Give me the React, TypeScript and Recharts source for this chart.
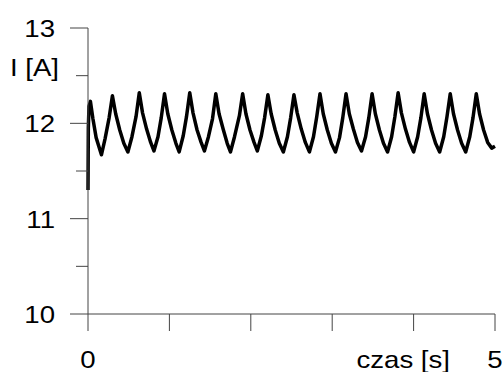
import React from "react";
import { LineChart, Line, XAxis, YAxis } from "recharts";

// time [s]
const times = [
  0, 0.004, 0.012, 0.03, 0.06, 0.10, 0.165, 0.21, 0.26,
  0.30, 0.34, 0.39, 0.44, 0.49, 0.54, 0.59,
  0.63, 0.67, 0.72, 0.77, 0.81, 0.86, 0.90,
  0.94, 0.98, 1.03, 1.08, 1.12, 1.17, 1.21,
  1.25, 1.29, 1.34, 1.39, 1.43, 1.48, 1.53,
  1.57, 1.61, 1.66, 1.71, 1.75, 1.80, 1.86,
  1.90, 1.94, 1.99, 2.04, 2.08, 2.13, 2.17,
  2.21, 2.25, 2.30, 2.35, 2.40, 2.45, 2.49,
  2.53, 2.57, 2.62, 2.67, 2.72, 2.77, 2.81,
  2.85, 2.89, 2.94, 2.99, 3.04, 3.09, 3.13,
  3.17, 3.21, 3.26, 3.31, 3.36, 3.41, 3.45,
  3.49, 3.53, 3.58, 3.63, 3.68, 3.73, 3.77,
  3.81, 3.85, 3.90, 3.95, 4.00, 4.05, 4.09,
  4.13, 4.17, 4.22, 4.27, 4.32, 4.37, 4.41,
  4.45, 4.49, 4.54, 4.59, 4.64, 4.69, 4.73,
  4.77, 4.81, 4.86, 4.91, 4.96, 5.00,
];

// current I [A]
const currents = [
  11.30, 11.95, 12.18, 12.23, 12.05, 11.85, 11.67, 11.84, 12.06,
  12.29, 12.10, 11.93, 11.79, 11.70, 11.86, 12.07,
  12.32, 12.11, 11.94, 11.80, 11.71, 11.86, 12.06,
  12.31, 12.10, 11.93, 11.79, 11.70, 11.87, 12.07,
  12.32, 12.11, 11.93, 11.80, 11.71, 11.86, 12.05,
  12.31, 12.10, 11.94, 11.79, 11.70, 11.86, 12.08,
  12.31, 12.10, 11.93, 11.80, 11.71, 11.87, 12.06,
  12.30, 12.10, 11.93, 11.79, 11.70, 11.86, 12.06,
  12.30, 12.11, 11.94, 11.80, 11.70, 11.86, 12.07,
  12.31, 12.10, 11.93, 11.79, 11.70, 11.85, 12.06,
  12.31, 12.10, 11.94, 11.80, 11.71, 11.86, 12.06,
  12.31, 12.10, 11.93, 11.79, 11.70, 11.86, 12.07,
  12.32, 12.11, 11.94, 11.80, 11.70, 11.86, 12.06,
  12.31, 12.10, 11.93, 11.79, 11.70, 11.86, 12.07,
  12.31, 12.10, 11.93, 11.79, 11.70, 11.86, 12.06,
  12.31, 12.10, 11.93, 11.80, 11.74, 11.76,
];

const yTicks = [10, 10.5, 11, 11.5, 12, 12.5, 13];
const yLabels: Record<string, string> = { "10": "10", "11": "11", "12": "12", "13": "13" };
const yTitle = "I [A]";
const xTicks = [0, 1, 2, 3, 4, 5];
const xLabels: Record<string, string> = { "0": "0", "5": "5" };
const xTitle = "czas [s]";

const data = times.map((t, k) => ({ t, i: currents[k] }));

const AXIS = "#444";
const FONT = "'Liberation Sans', Arial, Helvetica, sans-serif";

const Txt = ({ x, y, anchor, children }: any) => (
  <text
    transform={`translate(${x} ${y}) scale(1.15 1)`}
    textAnchor={anchor}
    fontFamily={FONT}
    fontSize={24}
    fill="#000"
  >
    {children}
  </text>
);

const YTick = (props: any) => {
  const { x, y, payload } = props;
  const v = payload.value;
  const major = Number.isInteger(v);
  const len = major ? 18 : 12;
  const lbl = yLabels[String(v)];
  return (
    <g>
      <line x1={x - len} y1={y} x2={x} y2={y} stroke={AXIS} strokeWidth={1} />
      {lbl ? <Txt x={x - 33} y={y + 9} anchor="end">{lbl}</Txt> : null}
      {v === 12.5 ? <Txt x={x - 29} y={y} anchor="end">{yTitle}</Txt> : null}
    </g>
  );
};

const XTick = (props: any) => {
  const { x, y, payload } = props;
  const v = payload.value;
  const lbl = xLabels[String(v)];
  return (
    <g>
      <line x1={x} y1={y} x2={x} y2={y + 17} stroke={AXIS} strokeWidth={1} />
      {lbl ? <Txt x={x} y={y + 54} anchor="middle">{lbl}</Txt> : null}
    </g>
  );
};

const XTitle = (props: any) => {
  const vb = props.viewBox || {};
  return <Txt x={vb.x + vb.width - 45} y={vb.y + 54} anchor="end">{xTitle}</Txt>;
};

export default function App() {
  return (
    <div style={{ position: "absolute", left: 0, top: 0, background: "#fff" }}>
      <LineChart
        width={504}
        height={372}
        data={data}
        margin={{ top: 28, right: 9, left: 48, bottom: 0 }}
      >
        <XAxis
          dataKey="t"
          type="number"
          domain={[0, 5]}
          ticks={xTicks}
          interval={0}
          height={58}
          tickSize={0}
          tickMargin={0}
          tickLine={false}
          axisLine={{ stroke: AXIS, strokeWidth: 1 }}
          tick={<XTick />}
          label={<XTitle />}
        />
        <YAxis
          type="number"
          domain={[10, 13]}
          ticks={yTicks}
          interval={0}
          width={40}
          tickSize={0}
          tickMargin={0}
          tickLine={false}
          axisLine={{ stroke: AXIS, strokeWidth: 1 }}
          tick={<YTick />}
        />
        <Line
          dataKey="i"
          type="linear"
          stroke="#000"
          strokeWidth={3.5}
          strokeLinejoin="round"
          dot={false}
          isAnimationActive={false}
        />
      </LineChart>
    </div>
  );
}
